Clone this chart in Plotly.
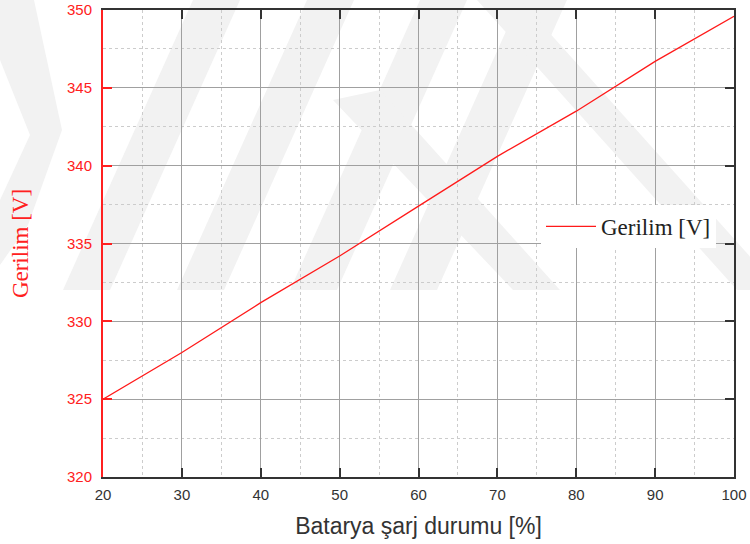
import plotly.graph_objects as go

# State of charge (%) and pack voltage (V)
soc = [20, 30, 40, 50, 60, 70, 80, 90, 100]
voltage = [325.0, 328.0, 331.2, 334.2, 337.4, 340.6, 343.5, 346.7, 349.6]

x_ticks = [20, 30, 40, 50, 60, 70, 80, 90, 100]
y_ticks = [320, 325, 330, 335, 340, 345, 350]

W, H = 750, 544
L, R, T, B = 103, 16, 10, 67
PW, PH = W - L - R, H - T - B


def to_paper(px, py):
    return (px - L) / PW, (H - B - py) / PH


def poly_path(points):
    pts = [to_paper(x, y) for x, y in points]
    return "M " + " L ".join(f"{x:.4f},{y:.4f}" for x, y in pts) + " Z"


# faint background emblem bands
emblem = [
    # rising bands
    [(63, 290), (110, 290), (240, 0), (193, 0)],
    [(177, 290), (224, 290), (354, 0), (307, 0)],
    [(290, 290), (337, 290), (467, 0), (420, 0)],
    [(390, 290), (437, 290), (567, 0), (520, 0)],
    # falling bands on the right
    [(477, 0), (520, 0), (780, 290), (737, 290)],
    [(333, 100), (380, 90), (560, 290), (513, 290)],
    # left chevron
    [(0, 0), (34, 0), (62, 130), (28, 225), (0, 265), (0, 200), (30, 135), (0, 60)],
]
shapes = [
    dict(type="path", path=poly_path(p), xref="paper", yref="paper",
         fillcolor="#f2f2f2", line=dict(width=0), layer="below")
    for p in emblem
]

fig = go.Figure()
fig.add_trace(go.Scatter(
    x=soc, y=voltage, mode="lines", name="Gerilim [V]",
    line=dict(color="#ff1a1a", width=1.3),
))
# secondary axis used only for the dark right-hand frame
fig.add_trace(go.Scatter(x=[None], y=[None], yaxis="y2", showlegend=False))

fig.update_layout(
    width=W, height=H,
    margin=dict(l=L, r=R, t=T, b=B, autoexpand=False),
    paper_bgcolor="white",
    plot_bgcolor="rgba(0,0,0,0)",
    shapes=shapes,
    showlegend=True,
    legend=dict(
        x=(541 - L) / PW, y=(H - B - 205) / PH, xanchor="left", yanchor="top",
        bgcolor="white", borderwidth=0,
        font=dict(family="Liberation Serif", size=23, color="#222"),
        itemwidth=50,
    ),
    xaxis=dict(
        range=[20, 100], tickvals=x_ticks, ticks="inside", ticklen=9, tickwidth=2,
        tickcolor="#333", showline=True, linecolor="#333", linewidth=2,
        mirror="ticks", showgrid=True, gridcolor="#a0a0a0", gridwidth=1,
        minor=dict(dtick=5, showgrid=True, gridcolor="#ccc", griddash="dot"),
        tickfont=dict(family="Liberation Sans", size=15, color="#333"),
        ticklabelstandoff=3,
        title=dict(text="Batarya şarj durumu [%]", standoff=16,
                   font=dict(family="Liberation Sans", size=23, color="#333")),
        zeroline=False, automargin=False,
    ),
    yaxis=dict(
        range=[320, 350], tickvals=y_ticks, ticks="inside", ticklen=9, tickwidth=2,
        tickcolor="#ff2020", showline=True, linecolor="#ff2020", linewidth=2,
        showgrid=True, gridcolor="#a0a0a0", gridwidth=1,
        minor=dict(dtick=2.5, showgrid=True, gridcolor="#ccc", griddash="dot"),
        tickfont=dict(family="Liberation Sans", size=15, color="#ff2020"),
        ticklabelstandoff=6,
        title=dict(text="Gerilim [V]", standoff=32,
                   font=dict(family="Liberation Serif", size=23, color="#ff2020")),
        zeroline=False, automargin=False,
    ),
    yaxis2=dict(
        range=[320, 350], tickvals=y_ticks, overlaying="y", side="right",
        ticks="inside", ticklen=9, tickwidth=2, tickcolor="#333",
        showline=True, linecolor="#333", linewidth=2, showticklabels=False,
        showgrid=False, zeroline=False, automargin=False,
    ),
)

fig.write_html("out.html")
